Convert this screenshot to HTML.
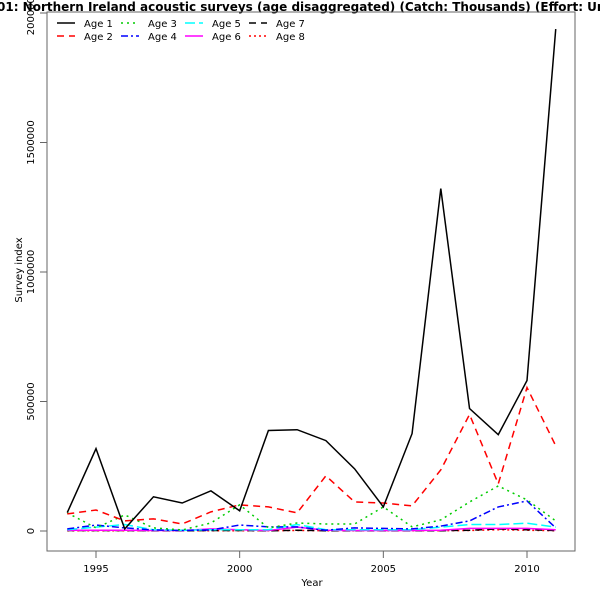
<!DOCTYPE html>
<html><head><meta charset="utf-8"><style>body{margin:0;background:#fff}svg{display:block}text{font-family:"DejaVu Sans","Liberation Sans",sans-serif}</style></head>
<body>
<svg id="chart" width="600" height="600" xmlns="http://www.w3.org/2000/svg">
<rect width="600" height="600" fill="#fff"/>
<text x="-3" y="11" font-size="12" font-weight="bold">01: Northern Ireland acoustic surveys (age disaggregated) (Catch: Thousands) (Effort: Unknown)</text>
<rect x="47" y="12" width="528" height="539" fill="none" stroke="#666" stroke-width="1"/>
<g id="xaxis"></g>
<g id="yaxis"></g>
<text x="312" y="586" font-size="10" text-anchor="middle">Year</text>
<text transform="translate(22,270) rotate(-90)" font-size="10" text-anchor="middle">Survey index</text>
<g id="series"></g>
<g id="legend"></g>
</svg>
<script>
const years=[1994,1995,1996,1997,1998,1999,2000,2001,2002,2003,2004,2005,2006,2007,2008,2009,2010,2011];
const age1=[71000,318000,8000,132000,108000,155000,78000,388000,391000,349000,240000,93000,376000,1322000,473000,372000,581000,1938000];
const age2=[66000,81000,39000,47000,27000,74000,101000,93000,70000,213000,112000,108000,97000,236000,450000,182000,554000,329000];
const age3=[70000,12000,62000,12000,4000,31000,101000,12000,31000,27000,27000,93000,16000,43000,112000,174000,120000,39000];
const age4=[8000,23000,12000,4000,2000,4000,23000,16000,16000,3000,12000,10000,8000,19000,39000,93000,116000,12000];
const age5=[5000,15000,25000,5000,3000,5000,5000,5000,25000,5000,5000,5000,5000,15000,25000,25000,30000,15000];
const age6=[3000,3000,3000,2000,2000,8000,5000,2000,15000,3000,2000,2000,2000,3000,10000,10000,10000,5000];
const age7=[2000,2000,2000,1000,1000,2000,2000,1000,3000,1000,1000,1000,1000,1000,3000,8000,5000,2000];
const age8=[1000,1000,1000,1000,1000,1000,1000,1000,2000,1000,1000,1000,1000,1000,2000,5000,3000,1000];
const xTicks=[1995,2000,2005,2010];
const yTicks=[0,500000,1000000,1500000,2000000];
const seriesNames=["Age 1","Age 2","Age 3","Age 4","Age 5","Age 6","Age 7","Age 8"];
const seriesData=[age1,age2,age3,age4,age5,age6,age7,age8];
const colors=["#000","#f00","#0c0","#00f","#0ff","#f0f","#000","#f00"];
const dashes=["","7,5","2,4","7,3,2,3","10,4","","7,5","2,3"];
const NS="http://www.w3.org/2000/svg";
function xs(v){return 96+(v-1995)*(527-96)/15;}
function ys(v){return 531-v*129.5/500000;}
function mk(tag,attrs,parent){const e=document.createElementNS(NS,tag);for(const k in attrs)e.setAttribute(k,attrs[k]);parent.appendChild(e);return e;}
const xa=document.getElementById('xaxis'),ya=document.getElementById('yaxis'),sg=document.getElementById('series'),lg=document.getElementById('legend');
xTicks.forEach(t=>{
 const l=mk('line',{x1:xs(t),x2:xs(t),y1:551,y2:558,stroke:'#666'},xa);
 
 
 const tx=mk('text',{x:xs(t),y:572,'font-size':10,'text-anchor':'middle'},xa);
 
 
 tx.textContent=t;
});
yTicks.forEach(t=>{
 const l=mk('line',{x1:40,x2:47,y1:ys(t),y2:ys(t),stroke:'#666'},ya);
 
 
 const tx=mk('text',{transform:`translate(34,${ys(t)}) rotate(-90)`,'font-size':10,'text-anchor':'middle'},ya);
 
 
 tx.textContent=t;
});
for(let i=seriesData.length-1;i>=0;i--){
 const d=seriesData[i];
 const pts=d.map((v,j)=>xs(years[j])+','+ys(v)).join(' ');
 const p=mk('polyline',{points:pts,fill:'none',stroke:colors[i],'stroke-width':1.5,'stroke-dasharray':dashes[i]},sg);
 
 
}
seriesNames.forEach((n,i)=>{
 const col=Math.floor(i/2),row=i%2;
 const x=57+col*64,y=23+row*13;
 const l=mk('line',{x1:x,x2:x+18,y1:y,y2:y,stroke:colors[i],'stroke-width':1.5,'stroke-dasharray':dashes[i]},lg);
 
 
 const t=mk('text',{x:x+27,y:y+4,'font-size':10},lg);
 
 
 t.textContent=n;
});
</script>
</body></html>
